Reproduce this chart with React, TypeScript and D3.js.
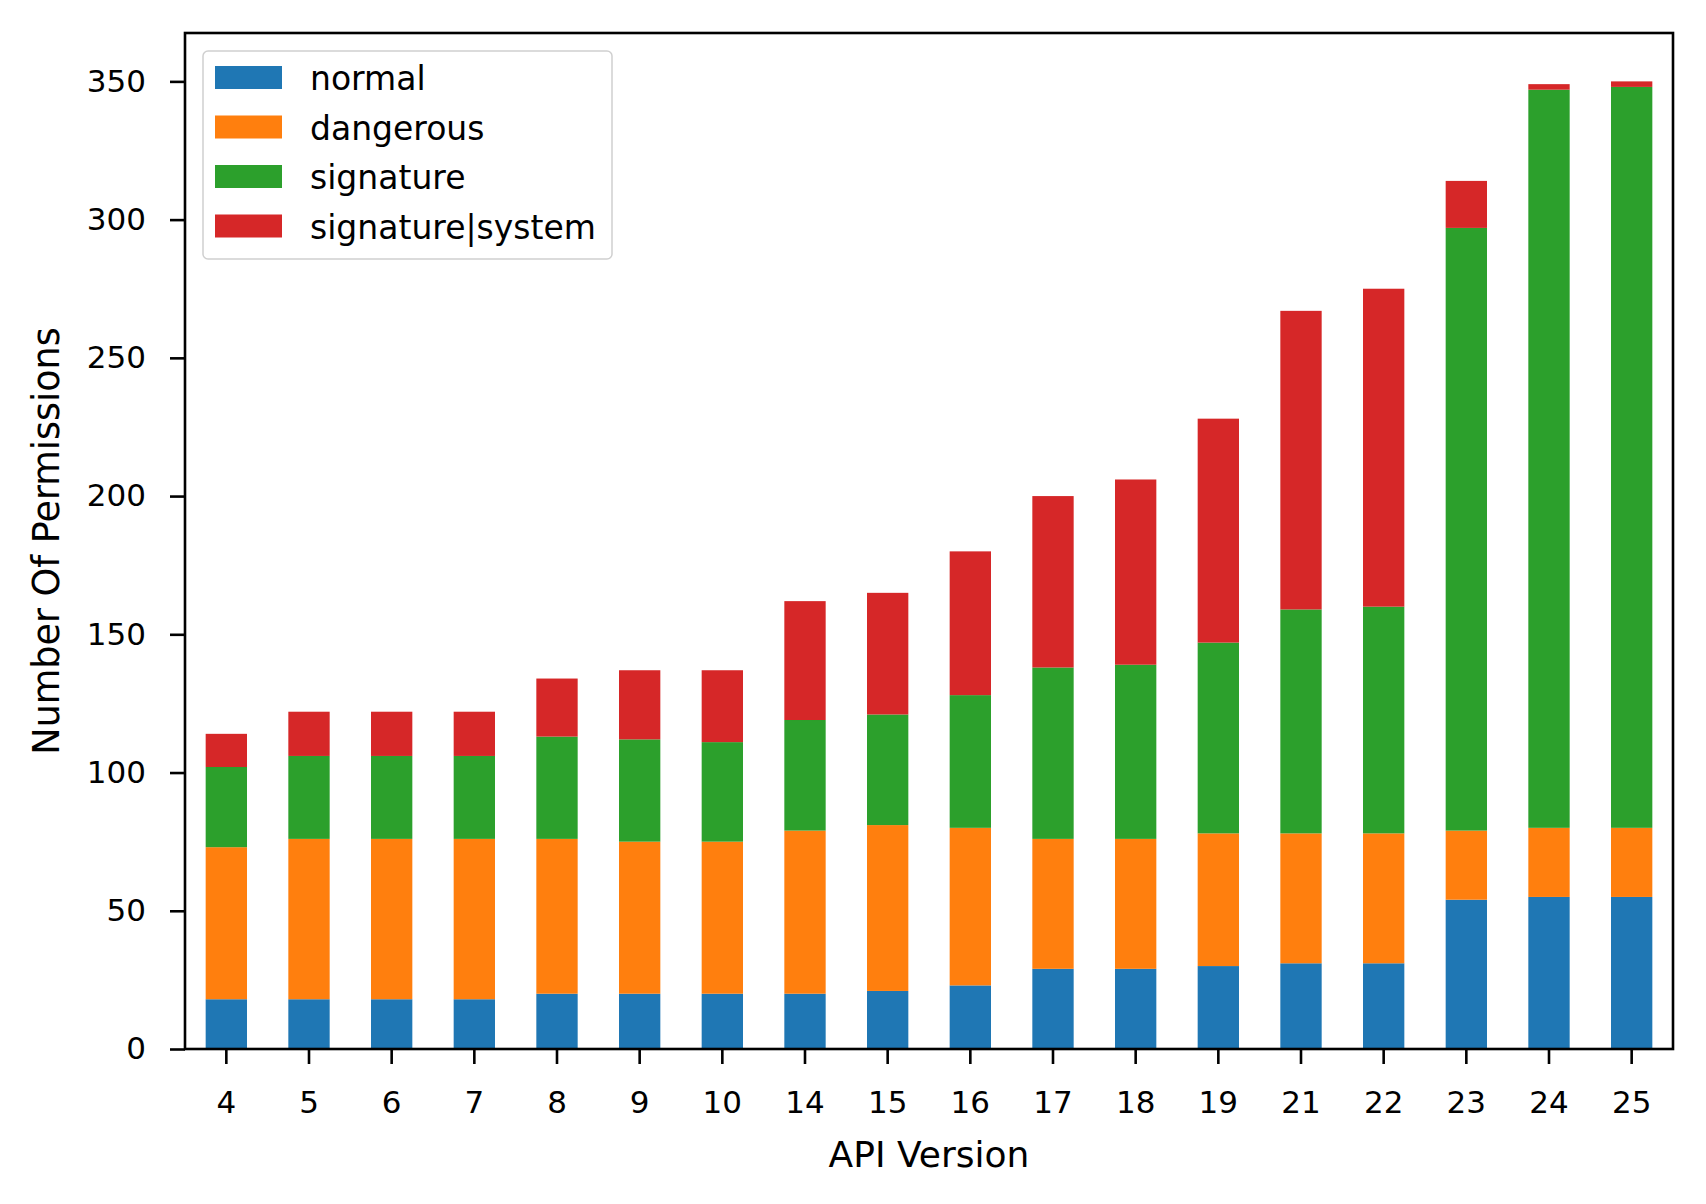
import React, { useEffect, useRef } from 'react';
import * as d3 from 'd3';

// API levels on the x axis
const apiVersions = ['4', '5', '6', '7', '8', '9', '10', '14', '15', '16', '17', '18', '19', '21', '22', '23', '24', '25'];

// permission counts per protection level
const normal = [18, 18, 18, 18, 20, 20, 20, 20, 21, 23, 29, 29, 30, 31, 31, 54, 55, 55];
const dangerous = [55, 58, 58, 58, 56, 55, 55, 59, 60, 57, 47, 47, 48, 47, 47, 25, 25, 25];
const signature = [29, 30, 30, 30, 37, 37, 36, 40, 40, 48, 62, 63, 69, 81, 82, 218, 267, 268];
const signatureSystem = [12, 16, 16, 16, 21, 25, 26, 43, 44, 52, 62, 67, 81, 108, 115, 17, 2, 2];

const seriesNames = ['normal', 'dangerous', 'signature', 'signature|system'];
const colors = ['#1f77b4', '#ff7f0e', '#2ca02c', '#d62728'];
const yTicks = [0, 50, 100, 150, 200, 250, 300, 350];

const W = 1706;
const H = 1204;
const margin = { top: 33, right: W - 1673, bottom: H - 1049, left: 185 };
const font = 'DejaVu Sans, sans-serif';

function App() {
  const svgRef = useRef<SVGSVGElement>(null);

  useEffect(() => {
    const svg = d3.select(svgRef.current);
    svg.selectAll('*').remove();

    const rows = apiVersions.map((v, i) => ({
      api: v,
      normal: normal[i],
      dangerous: dangerous[i],
      signature: signature[i],
      'signature|system': signatureSystem[i],
    }));

    const x = d3.scaleBand()
      .domain(apiVersions)
      .range([margin.left, W - margin.right])
      .paddingInner(0.5)
      .paddingOuter(0.25);

    const stacked = d3.stack<any>().keys(seriesNames)(rows);
    const maxTotal = d3.max(stacked[stacked.length - 1], d => d[1]) as number;

    const y = d3.scaleLinear()
      .domain([0, maxTotal * 1.05])
      .range([H - margin.bottom, margin.top]);

    // bars
    svg.append('g')
      .selectAll('g')
      .data(stacked)
      .join('g')
      .attr('fill', (_d, i) => colors[i])
      .selectAll('rect')
      .data(d => d)
      .join('rect')
      .attr('x', d => x(d.data.api) as number)
      .attr('width', x.bandwidth())
      .attr('y', d => y(d[1]))
      .attr('height', d => y(d[0]) - y(d[1]));

    // x axis
    const xAxis = svg.append('g')
      .attr('transform', `translate(0,${H - margin.bottom})`)
      .call(d3.axisBottom(x).tickSize(15).tickPadding(27).tickSizeOuter(0));
    xAxis.select('.domain').remove();
    xAxis.selectAll('line').attr('stroke', '#000').attr('stroke-width', 2.6);
    xAxis.selectAll('text').attr('font-family', font).attr('font-size', 31).attr('fill', '#000');

    // y axis
    const yAxis = svg.append('g')
      .attr('transform', `translate(${margin.left},0)`)
      .call(d3.axisLeft(y).tickValues(yTicks).tickSize(15).tickPadding(24).tickSizeOuter(0));
    yAxis.select('.domain').remove();
    yAxis.selectAll('line').attr('stroke', '#000').attr('stroke-width', 2.6);
    yAxis.selectAll('text').attr('font-family', font).attr('font-size', 31).attr('fill', '#000');

    // frame
    svg.append('rect')
      .attr('x', margin.left)
      .attr('y', margin.top)
      .attr('width', W - margin.left - margin.right)
      .attr('height', H - margin.top - margin.bottom)
      .attr('fill', 'none')
      .attr('stroke', '#000')
      .attr('stroke-width', 2.6);

    // axis labels
    svg.append('text')
      .attr('x', (margin.left + W - margin.right) / 2)
      .attr('y', 1167)
      .attr('text-anchor', 'middle')
      .attr('font-family', font)
      .attr('font-size', 36)
      .text('API Version');

    svg.append('text')
      .attr('transform', `translate(59,${(margin.top + H - margin.bottom) / 2}) rotate(-90)`)
      .attr('text-anchor', 'middle')
      .attr('font-family', font)
      .attr('font-size', 36.5)
      .text('Number Of Permissions');

    // legend
    const legend = svg.append('g').attr('transform', 'translate(203,51)');
    legend.append('rect')
      .attr('width', 409)
      .attr('height', 208)
      .attr('rx', 5)
      .attr('fill', '#fff')
      .attr('fill-opacity', 0.8)
      .attr('stroke', '#d0d0d0')
      .attr('stroke-width', 1.5);
    const item = legend.selectAll('g.item')
      .data(seriesNames)
      .join('g')
      .attr('class', 'item')
      .attr('transform', (_d, i) => `translate(0,${15 + i * 49.5})`);
    item.append('rect')
      .attr('x', 12)
      .attr('width', 67)
      .attr('height', 23)
      .attr('fill', (_d, i) => colors[i]);
    item.append('text')
      .attr('x', 107)
      .attr('y', 24)
      .attr('font-family', font)
      .attr('font-size', 33)
      .text(d => d);
  }, []);

  return (
    <svg ref={svgRef} width={W} height={H}
      style={{ position: 'absolute', left: 0, top: 0, background: '#fff' }} />
  );
}

export default App;
